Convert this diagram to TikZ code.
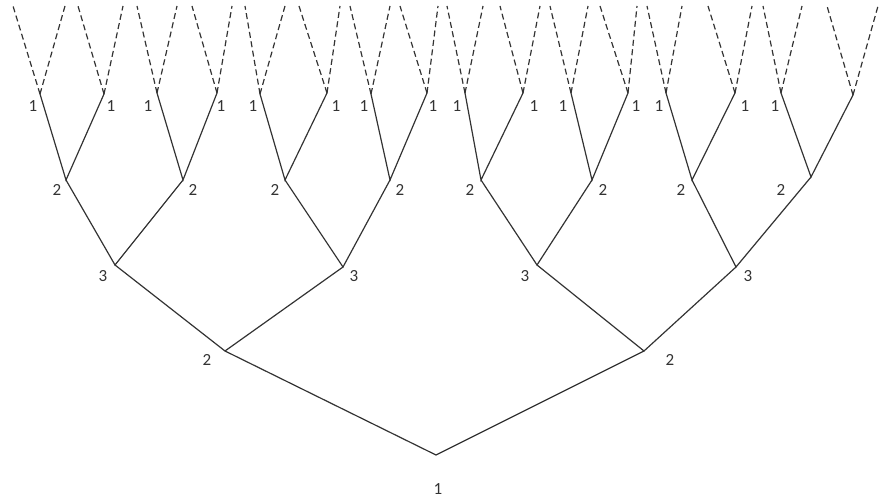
\documentclass[tikz,border=0pt]{standalone}
\usepackage{fontspec}
\setmainfont{Carlito}
\usepackage{tikz}
\usetikzlibrary{positioning}

\tikzset{
  edge/.style={line width=1.2pt, draw=black!80},
  dashline/.style={edge, dash pattern=on 6pt off 3.5pt},
  lab/.style={font=\fontsize{17}{20}\selectfont, text=black!80, inner sep=0pt}
}

\begin{document}
\begin{tikzpicture}[x=1pt, y=-1pt]
  \useasboundingbox (0,0) rectangle (880,502);

  % tree vertices
  \coordinate (r) at (436,455);
  \coordinate (b1) at (225,351);
  \coordinate (b2) at (644,351);
  \coordinate (c1) at (115,265);
  \coordinate (c2) at (343,267);
  \coordinate (c3) at (537,265);
  \coordinate (c4) at (736,267);
  \coordinate (d1) at (66,180);
  \coordinate (d2) at (183,180);
  \coordinate (d3) at (285,180);
  \coordinate (d4) at (390,180);
  \coordinate (d5) at (481,180);
  \coordinate (d6) at (592,180);
  \coordinate (d7) at (692,180);
  \coordinate (d8) at (811,177);
  \coordinate (e1) at (40,94);
  \coordinate (e2) at (104,94);
  \coordinate (e3) at (157,93);
  \coordinate (e4) at (217,93);
  \coordinate (e5) at (260,94);
  \coordinate (e6) at (327,93);
  \coordinate (e7) at (371,94);
  \coordinate (e8) at (427,93);
  \coordinate (e9) at (465,93);
  \coordinate (e10) at (523,93);
  \coordinate (e11) at (571,93);
  \coordinate (e12) at (628,93);
  \coordinate (e13) at (666,93);
  \coordinate (e14) at (735,93);
  \coordinate (e15) at (781,93);
  \coordinate (e16) at (853,95);

  % solid branches
  \draw[edge] (b1) -- (r) -- (b2);
  \draw[edge] (c1) -- (b1) -- (c2);
  \draw[edge] (c3) -- (b2) -- (c4);
  \draw[edge] (d1) -- (c1) -- (d2);
  \draw[edge] (d3) -- (c2) -- (d4);
  \draw[edge] (d5) -- (c3) -- (d6);
  \draw[edge] (d7) -- (c4) -- (d8);
  \draw[edge] (e1) -- (d1) -- (e2);
  \draw[edge] (e3) -- (d2) -- (e4);
  \draw[edge] (e5) -- (d3) -- (e6);
  \draw[edge] (e7) -- (d4) -- (e8);
  \draw[edge] (e9) -- (d5) -- (e10);
  \draw[edge] (e11) -- (d6) -- (e12);
  \draw[edge] (e13) -- (d7) -- (e14);
  \draw[edge] (e15) -- (d8) -- (e16);

  % dashed continuation above the leaves
  \foreach \n/\a/\b in {e1/13/65, e2/78/123, e3/137/177, e4/192/232,
                        e5/245/285, e6/299/340, e7/350/390, e8/400/438,
                        e9/447/483, e10/500/540, e11/550/588, e12/600/637,
                        e13/647/682, e14/708/752, e15/763/802, e16/827/878} {
    \coordinate (\n-l) at (\a,6);
    \coordinate (\n-r) at (\b,6);
    \draw[dashline] (\n) -- (\n-l);
    \draw[dashline] (\n) -- (\n-r);
  }

  % labels
  \node[lab] (lr) at (438,489) {1};
  \node[lab] (lb1) at (207,360) {2};
  \node[lab] (lb2) at (670,360) {2};
  \node[lab] (lc1) at (103,276) {3};
  \node[lab] (lc2) at (354,276) {3};
  \node[lab] (lc3) at (525,276) {3};
  \node[lab] (lc4) at (748,276) {3};
  \node[lab] (ld1) at (57,190) {2};
  \node[lab] (ld2) at (193,190) {2};
  \node[lab] (ld3) at (275,190) {2};
  \node[lab] (ld4) at (400,190) {2};
  \node[lab] (ld5) at (470,190) {2};
  \node[lab] (ld6) at (603,190) {2};
  \node[lab] (ld7) at (681,190) {2};
  \node[lab] (ld8) at (781,190) {2};
  \node[lab] (le1) at (33,106) {1};
  \node[lab] (le2) at (111,106) {1};
  \node[lab] (le3) at (148,106) {1};
  \node[lab] (le4) at (221,106) {1};
  \node[lab] (le5) at (253,106) {1};
  \node[lab] (le6) at (336,106) {1};
  \node[lab] (le7) at (364,106) {1};
  \node[lab] (le8) at (433,106) {1};
  \node[lab] (le9) at (457,106) {1};
  \node[lab] (le10) at (534,106) {1};
  \node[lab] (le11) at (563,106) {1};
  \node[lab] (le12) at (636,106) {1};
  \node[lab] (le13) at (659,106) {1};
  \node[lab] (le14) at (745,106) {1};
  \node[lab] (le15) at (775,106) {1};
\end{tikzpicture}
\end{document}
